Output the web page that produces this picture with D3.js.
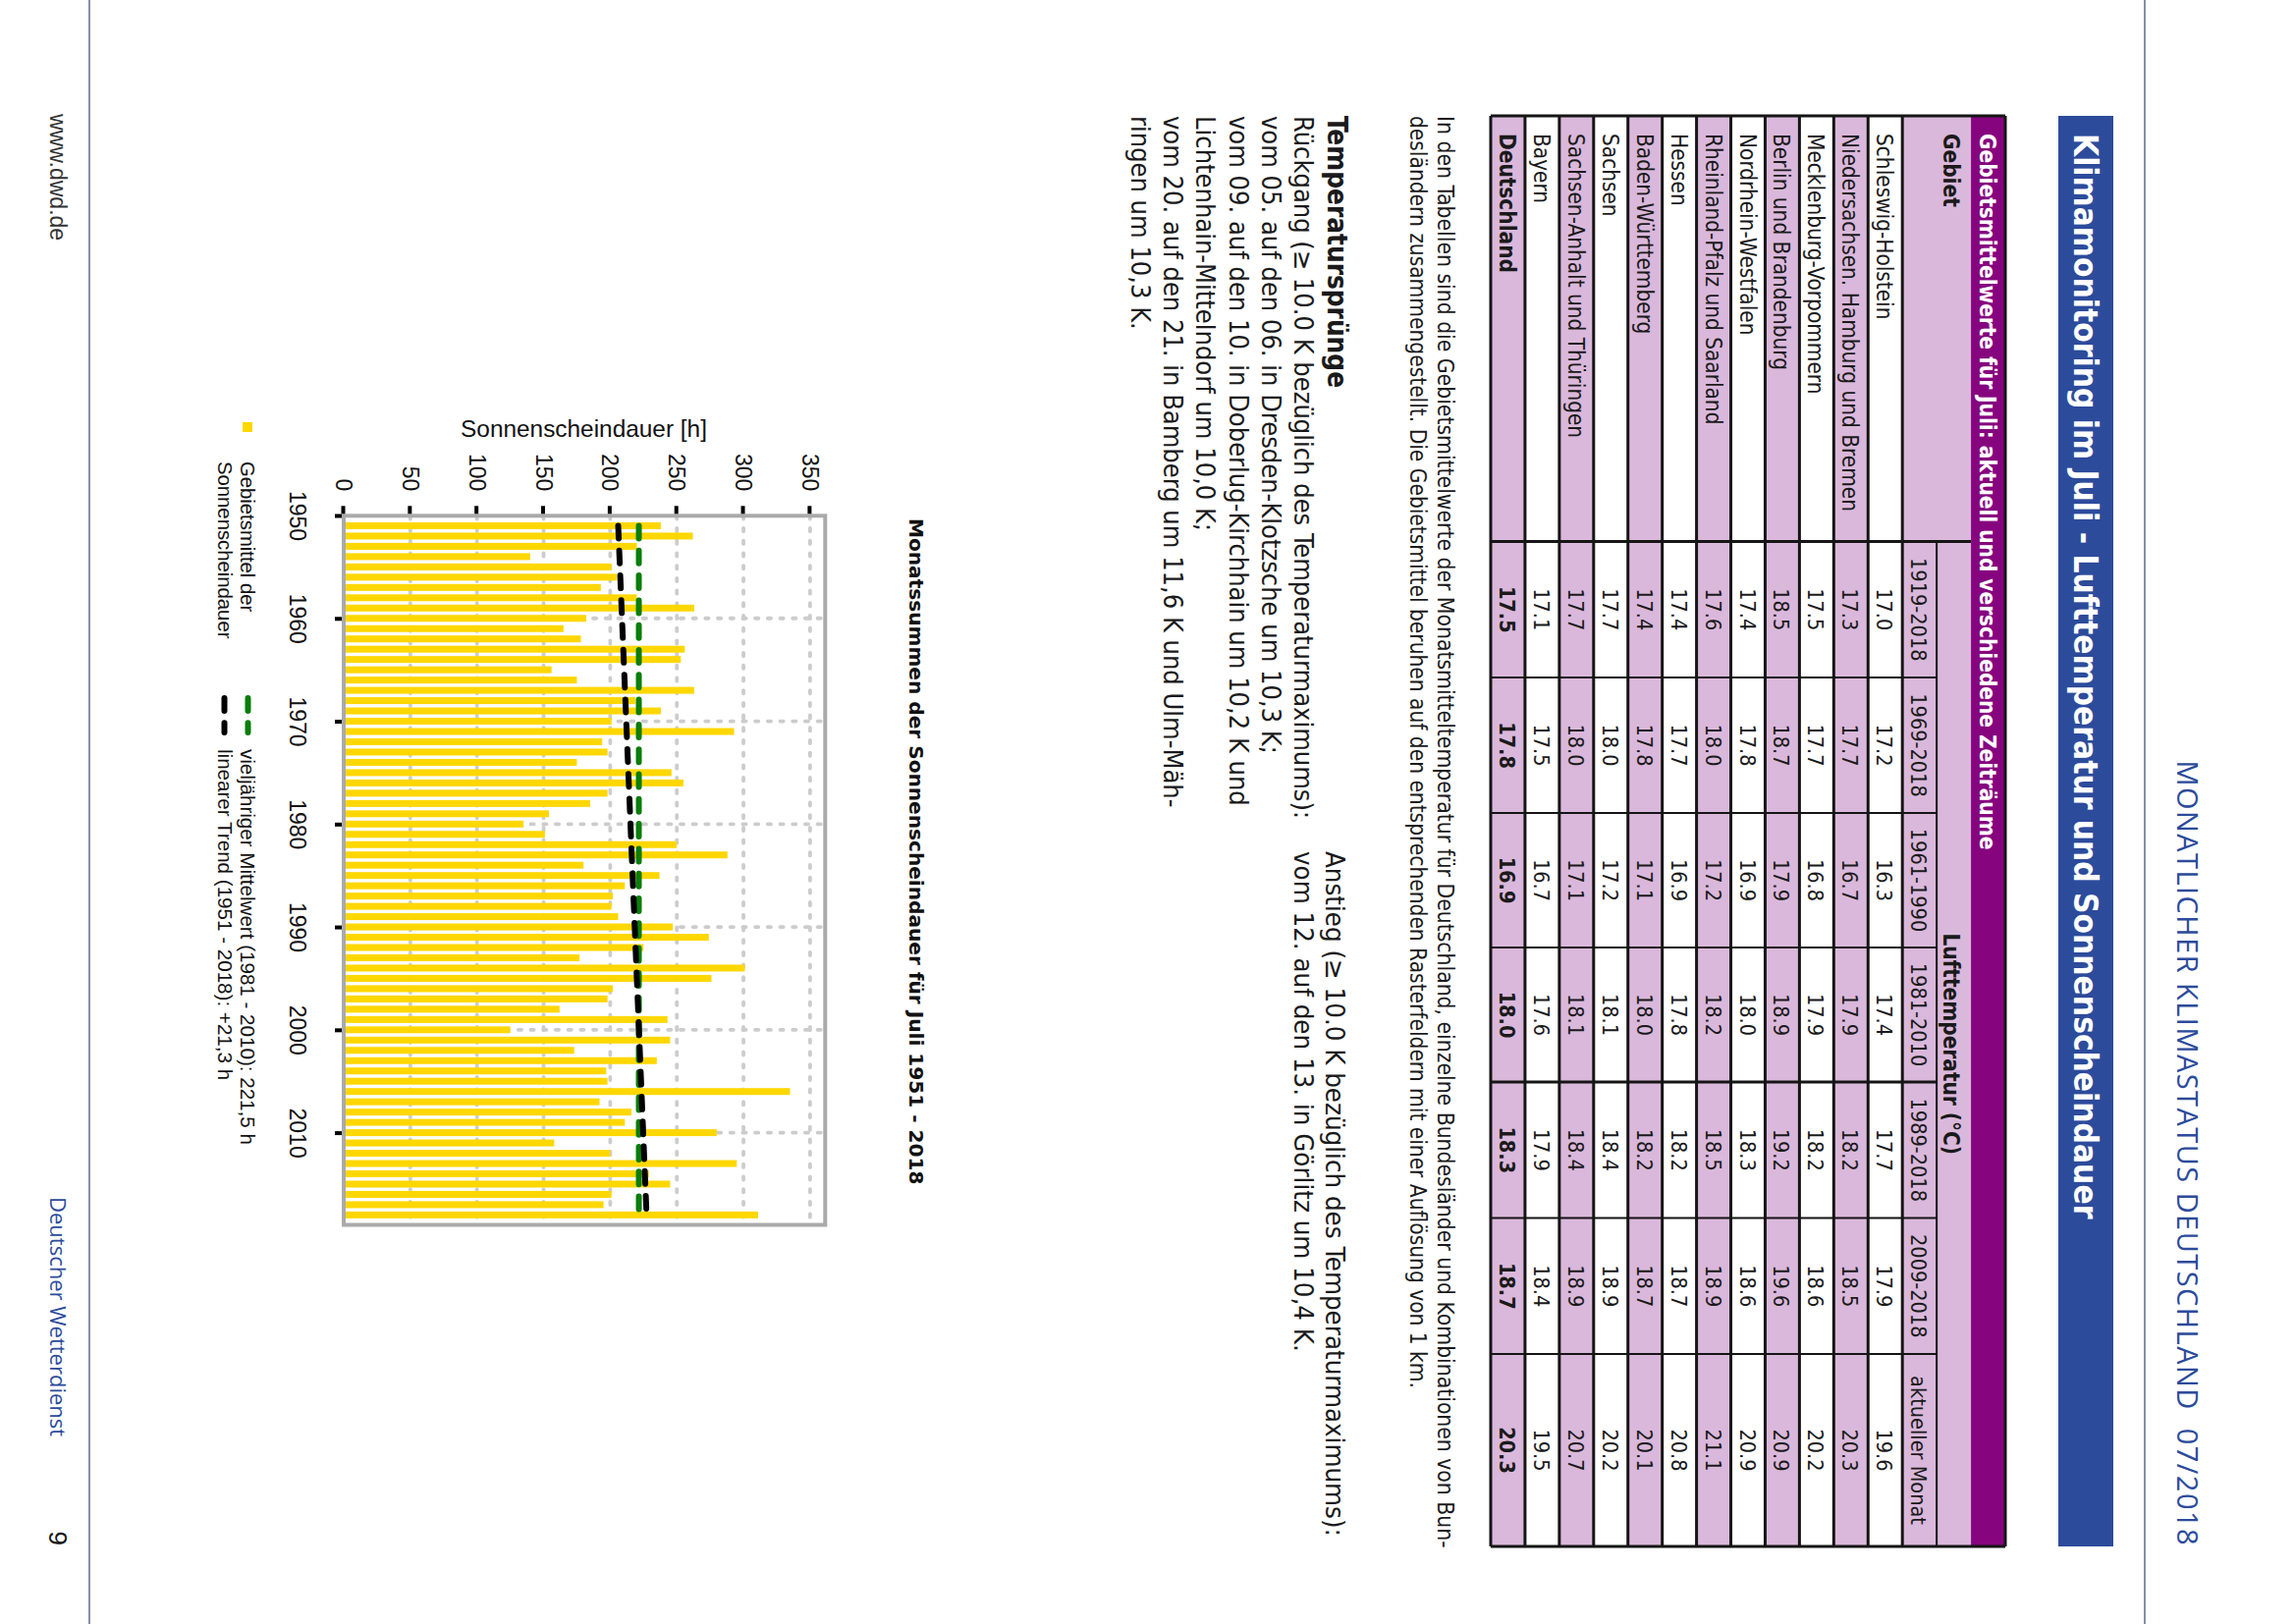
<!DOCTYPE html>
<html>
<head>
<meta charset="utf-8">
<script src="https://cdn.jsdelivr.net/npm/d3@7/dist/d3.min.js"></script>
<style>
    html, body { margin: 0; padding: 0; background: #fff; }
    svg { display: block; }
    .page { font-family: "DejaVu Sans Condensed", "DejaVu Sans"; fill: #1a1a1a; }
    .plot text { font-family: "Liberation Sans"; fill: #111; }
</style>
</head>
<body>
<svg></svg>
<script>
const w = 2336;
const h = 1654;

// Sonnenscheindauer Juli, Monatssummen [h]
const years = d3.range(1951, 2019);
const sunshine = [
    238, 262, 220, 140, 201, 205, 193, 220, 263, 182,
    165, 178, 256, 253, 156, 175, 263, 219, 238, 201,
    293, 194, 198, 175, 246, 255, 198, 185, 154, 135,
    151, 250, 288, 180, 237, 211, 202, 201, 206, 247,
    274, 225, 177, 301, 276, 202, 198, 162, 243, 125,
    245, 173, 235, 197, 198, 335, 192, 216, 211, 280,
    158, 200, 295, 229, 245, 201, 195, 311
];
const meanYears = [1951, 2018];
const meanValues = [221.5, 221.5];
const trendValues = [206, 227.3];
const valueTicks = [0, 50, 100, 150, 200, 250, 300, 350];
const yearTicks = [1950, 1960, 1970, 1980, 1990, 2000, 2010];

// Tabelle
const regions = [
    'Schleswig-Holstein', 'Niedersachsen. Hamburg und Bremen', 'Mecklenburg-Vorpommern',
    'Berlin und Brandenburg', 'Nordrhein-Westfalen', 'Rheinland-Pfalz und Saarland',
    'Hessen', 'Baden-Württemberg', 'Sachsen', 'Sachsen-Anhalt und Thüringen',
    'Bayern', 'Deutschland'
];
const periods = ['1919-2018', '1969-2018', '1961-1990', '1981-2010', '1989-2018', '2009-2018', 'aktueller Monat'];
const temp1919 = ['17.0', '17.3', '17.5', '18.5', '17.4', '17.6', '17.4', '17.4', '17.7', '17.7', '17.1', '17.5'];
const temp1969 = ['17.2', '17.7', '17.7', '18.7', '17.8', '18.0', '17.7', '17.8', '18.0', '18.0', '17.5', '17.8'];
const temp1961 = ['16.3', '16.7', '16.8', '17.9', '16.9', '17.2', '16.9', '17.1', '17.2', '17.1', '16.7', '16.9'];
const temp1981 = ['17.4', '17.9', '17.9', '18.9', '18.0', '18.2', '17.8', '18.0', '18.1', '18.1', '17.6', '18.0'];
const temp1989 = ['17.7', '18.2', '18.2', '19.2', '18.3', '18.5', '18.2', '18.2', '18.4', '18.4', '17.9', '18.3'];
const temp2009 = ['17.9', '18.5', '18.6', '19.6', '18.6', '18.9', '18.7', '18.7', '18.9', '18.9', '18.4', '18.7'];
const tempNow = ['19.6', '20.3', '20.2', '20.9', '20.9', '21.1', '20.8', '20.1', '20.2', '20.7', '19.5', '20.3'];
const tempColumns = [temp1919, temp1969, temp1961, temp1981, temp1989, temp2009, tempNow];

const noteLines = [
    'In den Tabellen sind die Gebietsmittelwerte der Monatsmitteltemperatur für Deutschland, einzelne Bundesländer und Kombinationen von Bun-',
    'desländern zusammengestellt. Die Gebietsmittel beruhen auf den entsprechenden Rasterfeldern mit einer Auflösung von 1 km.'
];
const fallLines = [
    'Rückgang (≥ 10.0 K bezüglich des Temperaturmaximums):',
    'vom 05. auf den 06. in Dresden-Klotzsche um 10,3 K;',
    'vom 09. auf den 10. in Doberlug-Kirchhain um 10,2 K und',
    'Lichtenhain-Mittelndorf um 10,0 K;',
    'vom 20. auf den 21. in Bamberg um 11,6 K und Ulm-Mäh-',
    'ringen um 10,3 K.'
];
const riseLines = [
    'Anstieg (≥ 10.0 K bezüglich des Temperaturmaximums):',
    'vom 12. auf den 13. in Görlitz um 10,4 K.'
];

const blue = '#2c4b9b';
const purple = '#86057f';
const lilac = '#dab8db';

const svg = d3.select('svg').attr('width', w).attr('height', h);
svg.append('rect').attr('width', w).attr('height', h).attr('fill', '#fff');

// Die ganze Seite liegt quer: im Hochformat zeichnen, dann um 90 Grad drehen
const page = svg.append('g').attr('class', 'page').attr('transform', 'translate(' + w + ',0) rotate(90)');
const flip = (X) => w - X; // Bildschirm-x -> Seiten-y

// Randlinien
[91, 2184].forEach((X) => {
    page.append('line').attr('x1', 0).attr('x2', h).attr('y1', flip(X)).attr('y2', flip(X))
        .attr('stroke', '#5c6a90').attr('stroke-width', 1.5);
});

// Kopf
page.append('text').text('MONATLICHER KLIMASTATUS DEUTSCHLAND  07/2018')
    .attr('x', 1575).attr('y', flip(2217)).attr('text-anchor', 'end')
    .attr('xml:space', 'preserve')
    .style('font-family', '"Open Sans"').style('font-size', '29px').style('letter-spacing', '1.45px').style('fill', blue);
page.append('rect').attr('x', 118).attr('y', flip(2152)).attr('width', 1457).attr('height', 56).attr('fill', blue);
page.append('text').text('Klimamonitoring im Juli - Lufttemperatur und Sonnenscheindauer')
    .attr('x', 136).attr('y', flip(2112))
    .style('font-size', '33.2px').style('font-weight', 'bold').style('fill', '#fff');

// Tabelle
const colEdges = [118, 551.5, 690, 828, 965, 1102, 1240.5, 1379, 1575];
const rowY = d3.scaleLinear().domain([0, 15]).range([flip(2042), flip(1518)]);
const table = page.append('g');

table.append('rect').attr('x', 118).attr('y', rowY(1)).attr('width', 1457).attr('height', rowY(3) - rowY(1)).attr('fill', lilac);
table.selectAll('.band').data(regions).enter().append('rect')
    .attr('x', 118).attr('y', (d, i) => rowY(i + 3)).attr('width', 1457).attr('height', rowY(1) - rowY(0))
    .attr('fill', (d, i) => (i % 2 ? lilac : '#fff'));
table.append('rect').attr('x', 118).attr('y', rowY(0)).attr('width', 1457).attr('height', rowY(1) - rowY(0)).attr('fill', purple);

d3.range(0, 16).filter((r) => r !== 1 && r !== 2).forEach((r) => {
    table.append('line').attr('x1', 118).attr('x2', 1575).attr('y1', rowY(r)).attr('y2', rowY(r))
        .attr('stroke', '#151515').attr('stroke-width', 3);
});
table.append('line').attr('x1', 551.5).attr('x2', 1575).attr('y1', rowY(2)).attr('y2', rowY(2))
    .attr('stroke', '#151515').attr('stroke-width', 2);
colEdges.forEach((x, i) => {
    const thick = i === 0 || i === 1 || i === 5 || i === 8;
    const top = i === 0 || i === 8 ? 0 : i === 1 ? 1 : 2;
    table.append('line').attr('x1', x).attr('x2', x).attr('y1', rowY(top)).attr('y2', rowY(15))
        .attr('stroke', '#151515').attr('stroke-width', thick ? 3 : 2);
});

table.append('text').text('Gebietsmittelwerte für Juli: aktuell und verschiedene Zeiträume')
    .attr('x', 136).attr('y', rowY(1) - 9)
    .style('font-size', '22.4px').style('font-weight', 'bold').style('fill', '#fff');
table.append('text').text('Gebiet').attr('x', 136).attr('y', rowY(2) - 7)
    .style('font-size', '22.4px').style('font-weight', 'bold');
table.append('text').text('Lufttemperatur (°C)').attr('x', (551.5 + 1575) / 2).attr('y', rowY(2) - 7)
    .attr('text-anchor', 'middle').style('font-size', '22.4px').style('font-weight', 'bold');
table.selectAll('.period').data(periods).enter().append('text').text((d) => d)
    .attr('x', (d, i) => (colEdges[i + 1] + colEdges[i + 2]) / 2).attr('y', rowY(3) - 9)
    .attr('text-anchor', 'middle').style('font-size', '21.5px');
table.selectAll('.region').data(regions).enter().append('text').text((d) => d)
    .attr('x', 136).attr('y', (d, i) => rowY(i + 4) - 9)
    .style('font-size', '22.4px').style('font-weight', (d, i) => (i === 11 ? 'bold' : 'normal'));
tempColumns.forEach((col, c) => {
    table.selectAll('.c' + c).data(col).enter().append('text').text((d) => d)
        .attr('x', (colEdges[c + 1] + colEdges[c + 2]) / 2)
        .attr('y', (d, i) => rowY(i + 4) - 9)
        .attr('text-anchor', 'middle')
        .style('font-size', '21.5px').style('font-weight', (d, i) => (i === 11 ? 'bold' : 'normal'));
});

// Fliesstext
noteLines.forEach((t, i) => {
    page.append('text').text(t).attr('x', 118).attr('y', flip(1464 - i * 28))
        .style('font-size', i ? '22.5px' : '22.7px');
});
page.append('text').text('Temperatursprünge').attr('x', 118).attr('y', flip(1352))
    .style('font-size', '27.7px').style('font-weight', 'bold');
fallLines.forEach((t, i) => {
    page.append('text').text(t).attr('x', 118).attr('y', flip(1318 - i * 33.2)).style('font-size', '27px');
});
riseLines.forEach((t, i) => {
    page.append('text').text(t).attr('x', 867).attr('y', flip(1350 - i * 32)).style('font-size', '27.4px');
});

// Fusszeile
page.append('text').text('www.dwd.de').attr('x', 116).attr('y', flip(50.5))
    .style('font-family', '"Liberation Sans"').style('font-size', '23px').style('fill', '#333');
page.append('text').text('Deutscher Wetterdienst').attr('x', 1219).attr('y', flip(50.5))
    .style('font-family', '"Open Sans"').style('font-size', '22px').style('fill', blue);
page.append('text').text('9').attr('x', 1574).attr('y', flip(50)).attr('text-anchor', 'end')
    .style('font-family', '"Liberation Sans"').style('font-size', '26px').style('fill', '#111');

// Diagramm
const plot = page.append('g').attr('class', 'plot');
const xScale = d3.scaleLinear().domain([1950, 2018]).range([525, 1237.4]);
const yScale = d3.scaleLinear().domain([0, 350]).range([flip(350), flip(824.9)]);
const frame = { left: 525.3, right: 1247.5, top: flip(840.3), bottom: flip(350) };

// Gitter
plot.selectAll('.grid-v').data(valueTicks.slice(1)).enter().append('line')
    .attr('x1', frame.left).attr('x2', frame.right)
    .attr('y1', (d) => yScale(d)).attr('y2', (d) => yScale(d))
    .attr('stroke', '#cccccc').attr('stroke-width', 3.8).attr('stroke-linecap', 'round')
    .attr('stroke-dasharray', '3.2,9.5');
plot.selectAll('.grid-y').data(yearTicks.slice(1)).enter().append('line')
    .attr('x1', (d) => xScale(d)).attr('x2', (d) => xScale(d))
    .attr('y1', frame.bottom).attr('y2', frame.top)
    .attr('stroke', '#cccccc').attr('stroke-width', 3.8).attr('stroke-linecap', 'round')
    .attr('stroke-dasharray', '3.2,9.5');

// Balken
plot.selectAll('.bar').data(sunshine).enter().append('rect')
    .attr('x', (d, i) => xScale(years[i]) - 3.5)
    .attr('y', (d) => yScale(d))
    .attr('width', 7)
    .attr('height', (d) => yScale(0) - yScale(d))
    .attr('fill', '#ffd700');

// Mittelwert und Trend
const line = d3.line().x((d, i) => xScale(meanYears[i])).y((d) => yScale(d));
plot.append('path').attr('d', line(meanValues)).attr('fill', 'none')
    .attr('stroke', '#0a7d0a').attr('stroke-width', 6).attr('stroke-linecap', 'round')
    .attr('stroke-dasharray', '13,12.3');
plot.append('path').attr('d', line(trendValues)).attr('fill', 'none')
    .attr('stroke', '#000').attr('stroke-width', 6).attr('stroke-linecap', 'round')
    .attr('stroke-dasharray', '13,12.3');

// Rahmen
plot.append('rect').attr('x', frame.left).attr('y', frame.top)
    .attr('width', frame.right - frame.left).attr('height', frame.bottom - frame.top)
    .attr('fill', 'none').attr('stroke', '#aaa').attr('stroke-width', 4);

// Achsen
const xAxis = d3.axisBottom(xScale).tickValues(yearTicks).tickFormat(d3.format('d')).tickSize(7).tickPadding(30);
const yAxis = d3.axisLeft(yScale).tickValues(valueTicks).tickSize(8).tickPadding(15);
const gx = plot.append('g').attr('transform', 'translate(0,' + (frame.bottom + 2) + ')').call(xAxis);
const gy = plot.append('g').attr('transform', 'translate(' + (frame.left - 2) + ',0)').call(yAxis);
[gx, gy].forEach((g) => {
    g.select('.domain').remove();
    g.selectAll('.tick line').attr('stroke', '#000').attr('stroke-width', 4);
    g.selectAll('.tick text').style('font-size', '23px');
});

plot.append('text').text('Sonnenscheindauer [h]')
    .attr('transform', 'translate(445,' + flip(594.5) + ') rotate(-90)')
    .attr('text-anchor', 'middle').style('font-size', '24.4px');
plot.append('text').text('Monatssummen der Sonnenscheindauer für Juli 1951 - 2018')
    .attr('x', 528).attr('y', flip(925.5))
    .style('font-family', '"DejaVu Sans"').style('font-weight', 'bold').style('font-size', '20.1px');

// Legende
plot.append('rect').attr('x', 430).attr('y', flip(257)).attr('width', 10).attr('height', 10).attr('fill', '#ffd700');
plot.append('text').text('Gebietsmittel der').attr('x', 470).attr('y', flip(245)).style('font-size', '20.3px');
plot.append('text').text('Sonnenscheindauer').attr('x', 470).attr('y', flip(222)).style('font-size', '20.3px');
plot.append('line').attr('x1', 711).attr('x2', 746).attr('y1', flip(252.5)).attr('y2', flip(252.5))
    .attr('stroke', '#0a7d0a').attr('stroke-width', 6).attr('stroke-linecap', 'round').attr('stroke-dasharray', '13,12.3');
plot.append('line').attr('x1', 711).attr('x2', 746).attr('y1', flip(228.5)).attr('y2', flip(228.5))
    .attr('stroke', '#000').attr('stroke-width', 6).attr('stroke-linecap', 'round').attr('stroke-dasharray', '13,12.3');
plot.append('text').text('vieljähriger Mittelwert (1981 - 2010): 221,5 h').attr('x', 763).attr('y', flip(245)).style('font-size', '20.6px');
plot.append('text').text('linearer Trend (1951 - 2018): +21,3 h').attr('x', 763).attr('y', flip(222)).style('font-size', '20.6px');
</script>
</body>
</html>
